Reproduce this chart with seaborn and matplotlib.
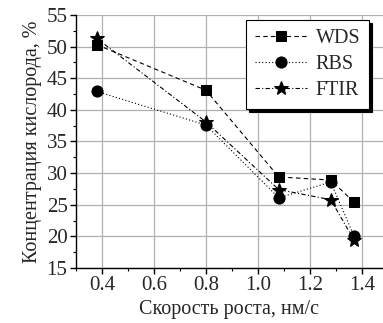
import matplotlib
matplotlib.use("Agg")
import matplotlib.pyplot as plt
import seaborn as sns
import pandas as pd
from matplotlib.ticker import MultipleLocator

# Data
speed = [0.38, 0.80, 1.08, 1.28, 1.37]
wds = [50.3, 43.1, 29.4, 28.9, 25.4]
rbs = [42.9, 37.6, 26.1, 28.6, 20.0]
ftir = [51.3, 38.1, 27.4, 25.8, 19.4]

methods = ["WDS", "RBS", "FTIR"]
styles = {"WDS": ((0, (4, 3)), "s", 7.5),
          "RBS": ((0, (1, 2)), "o", 8),
          "FTIR": ((0, (4, 2, 1, 2)), "*", 10.5)}

df = pd.DataFrame({
    "speed": speed * 3,
    "conc": wds + rbs + ftir,
    "method": ["WDS"] * 5 + ["RBS"] * 5 + ["FTIR"] * 5,
})

sns.set_style("white")
plt.rcParams["font.family"] = ["Liberation Serif", "DejaVu Serif"]

fig = plt.figure(figsize=(3.83, 3.23), dpi=100)
ax = fig.add_axes([0.198, 0.170, 0.802, 0.784])

for m in methods:
    ls, mk, ms = styles[m]
    sns.lineplot(data=df[df["method"] == m], x="speed", y="conc", ax=ax,
                 color="black", linestyle=ls, linewidth=0.8,
                 marker=mk, markersize=ms, markeredgecolor="black",
                 label=m)

ax.set_xlim(0.3, 1.481)
ax.set_ylim(15, 55)
ax.xaxis.set_major_locator(MultipleLocator(0.2))
ax.xaxis.set_minor_locator(MultipleLocator(0.1))
ax.yaxis.set_major_locator(MultipleLocator(5))
ax.yaxis.set_minor_locator(MultipleLocator(2.5))
ax.set_xticks([0.4, 0.6, 0.8, 1.0, 1.2, 1.4])
ax.set_xticklabels(["0.4", "0.6", "0.8", "1.0", "1.2", "1.4"])

ax.grid(True, which="major", color="#b0b0b0", linewidth=0.9)
for s in ["top", "right"]:
    ax.spines[s].set_visible(False)
for s in ["left", "bottom"]:
    ax.spines[s].set_color("black")
    ax.spines[s].set_linewidth(1.0)

ax.tick_params(which="major", direction="out", length=4, width=1,
               color="black", labelsize=15, left=True, bottom=True, pad=2)
ax.tick_params(which="minor", direction="out", length=2, width=0.8,
               color="black", left=True, bottom=True)

ax.set_xlabel("Скорость роста, нм/с", fontsize=14.5, labelpad=3)
ax.set_ylabel("Концентрация кислорода, %", fontsize=14.5, labelpad=3)

leg = ax.legend(loc="upper right", bbox_to_anchor=(0.955, 0.98),
                borderaxespad=0, fontsize=14.5, frameon=True, fancybox=False,
                shadow={"color": "black", "alpha": 1.0},
                handlelength=2.6, handletextpad=0.4,
                borderpad=0.45, labelspacing=0.35)
leg.get_frame().set_edgecolor("black")
leg.get_frame().set_linewidth(0.8)

fig.savefig("out.png", dpi=100)
